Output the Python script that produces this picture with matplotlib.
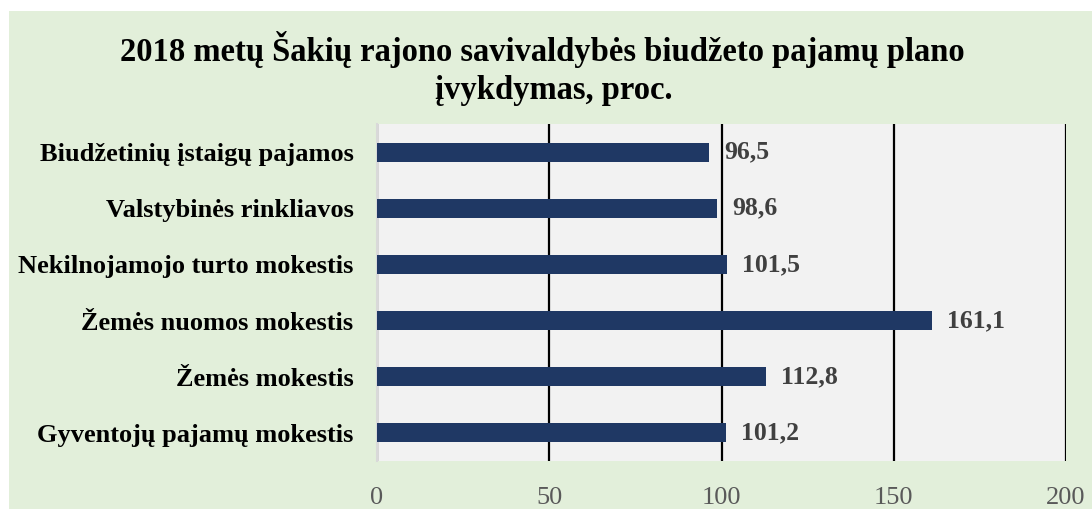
import matplotlib.pyplot as plt
from matplotlib.patches import Rectangle

# data
categories = ["Gyventojų pajamų mokestis", "Žemės mokestis", "Žemės nuomos mokestis",
              "Nekilnojamojo turto mokestis", "Valstybinės rinkliavos",
              "Biudžetinių įstaigų pajamos"]
values = [101.2, 112.8, 161.1, 101.5, 98.6, 96.5]
value_labels = ["101,2", "112,8", "161,1", "101,5", "98,6", "96,5"]
x_ticks = [0, 50, 100, 150, 200]

plt.rcParams['font.family'] = ['Liberation Serif', 'DejaVu Serif']

fig = plt.figure(figsize=(10.92, 5.09), dpi=100, facecolor='white')
fig.patches.append(Rectangle((9 / 1092, 0), 1, (509 - 11) / 509,
                             transform=fig.transFigure, facecolor='#E2EFDA',
                             edgecolor='none', zorder=-10))

ax = fig.add_axes([377 / 1092, 48 / 509, (1066 - 377) / 1092, (461 - 124) / 509])
ax.set_facecolor('#F2F2F2')

y = range(len(categories))
ax.barh(y, values, height=0.34, color='#1F3864', zorder=3)
for yi, v, lab in zip(y, values, value_labels):
    ax.annotate(lab, (v, yi), xytext=(11, 0), textcoords='offset points',
                va='center', ha='left', fontsize=18.5, fontweight='bold',
                color='#404040')

ax.set_xlim(0, 200)
ax.set_ylim(-0.5, len(categories) - 0.5)
ax.set_xticks(x_ticks)
ax.set_xticklabels([str(t) for t in x_ticks], fontsize=19, color='#595959')
ax.set_yticks(list(y))
ax.set_yticklabels(categories, fontsize=19, fontweight='bold', color='black')
ax.tick_params(axis='x', length=0, pad=19)
ax.tick_params(axis='y', length=0, pad=17)

ax.xaxis.grid(True, color='black', linewidth=1.6, zorder=1)
ax.set_axisbelow(True)
for s in ['top', 'right', 'bottom']:
    ax.spines[s].set_visible(False)
ax.spines['left'].set_color('#D9D9D9')
ax.spines['left'].set_linewidth(1.5)

fig.text(0.497, 1 - 50 / 509, "2018 metų Šakių rajono savivaldybės biudžeto pajamų plano",
         ha='center', va='center', fontsize=23.5, fontweight='bold')
fig.text(0.507, 1 - 91 / 509, "įvykdymas, proc.",
         ha='center', va='center', fontsize=23.5, fontweight='bold')

fig.savefig('out.png', dpi=100, facecolor=fig.get_facecolor())
